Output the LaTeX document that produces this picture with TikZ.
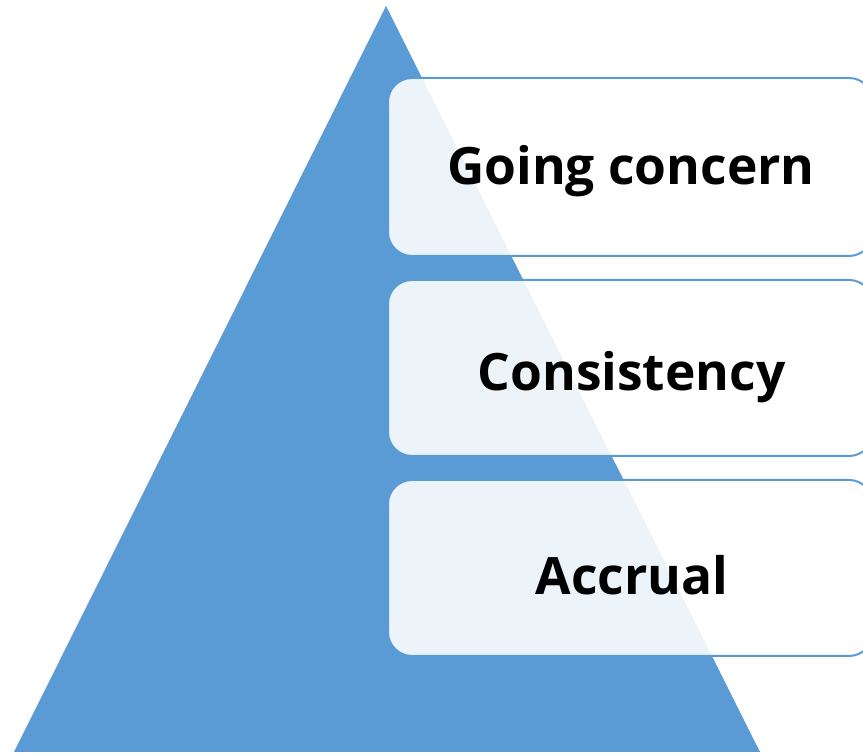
\documentclass[tikz,border=0pt]{standalone}
\usepackage{fontspec}
\setmainfont{Open Sans}
\definecolor{triblue}{RGB}{91,155,213}
\tikzset{
  tri/.style={fill=triblue, draw=none},
  layerbox/.style={draw=triblue, line width=2pt, fill=white, fill opacity=0.89, rounded corners=24pt},
  layertext/.style={font=\bfseries\fontsize{51.5}{60}\selectfont, text=black, anchor=base, inner sep=0pt}
}
\begin{document}
\begin{tikzpicture}[x=1pt,y=1pt]
\useasboundingbox (0,0) rectangle (863,754);
\clip (0,0) rectangle (863,754);
\coordinate (apex) at (386,748);
\coordinate (bl) at (14,2);
\coordinate (br) at (760,2);
\fill[tri] (apex) -- (br) -- (bl) -- cycle;
\draw[layerbox] (388,676) rectangle (873,498);
\draw[layerbox] (388,474) rectangle (873,298);
\draw[layerbox] (388,274) rectangle (873,98);
\node[layertext] (going) at (631,569) {Going concern};
\node[layertext] (cons) at (631.5,363) {Consistency};
\node[layertext] (accr) at (632,159) {Accrual};
\end{tikzpicture}
\end{document}
